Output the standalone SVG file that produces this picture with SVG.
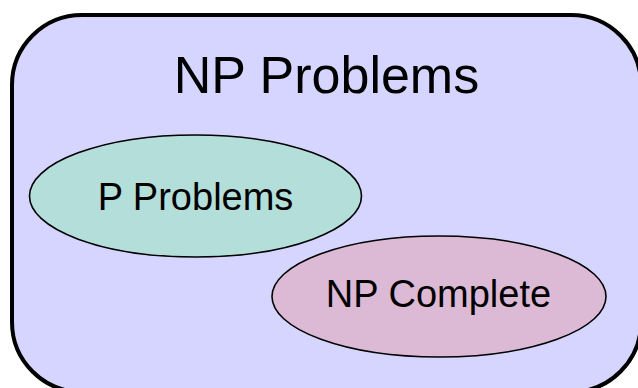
<svg xmlns="http://www.w3.org/2000/svg" width="638" height="388" viewBox="0 0 638 388">
  <style>
    .lbl { font-family: "Liberation Sans", Arial, sans-serif; fill: #000; text-anchor: middle; }
    .set { stroke: #000; stroke-width: 1.6; }
  </style>
  <rect x="0" y="0" width="638" height="388" fill="#ffffff"/>
  <g id="np-problems">
    <rect x="12" y="15" width="629" height="377" rx="70" ry="70" fill="#d5d5ff" stroke="#000" stroke-width="4"/>
    <text class="lbl" x="326.5" y="92.5" font-size="52">NP Problems</text>
  </g>
  <g id="p-problems">
    <ellipse class="set" cx="195.5" cy="196" rx="166" ry="61" fill="#b3ded9"/>
    <text class="lbl" x="195.5" y="210" font-size="38">P Problems</text>
  </g>
  <g id="np-complete">
    <ellipse class="set" cx="439" cy="296.5" rx="167" ry="60.5" fill="#dcb9d5"/>
    <text class="lbl" x="438.5" y="307" font-size="38">NP Complete</text>
  </g>
  <g id="connectors"/>
</svg>
